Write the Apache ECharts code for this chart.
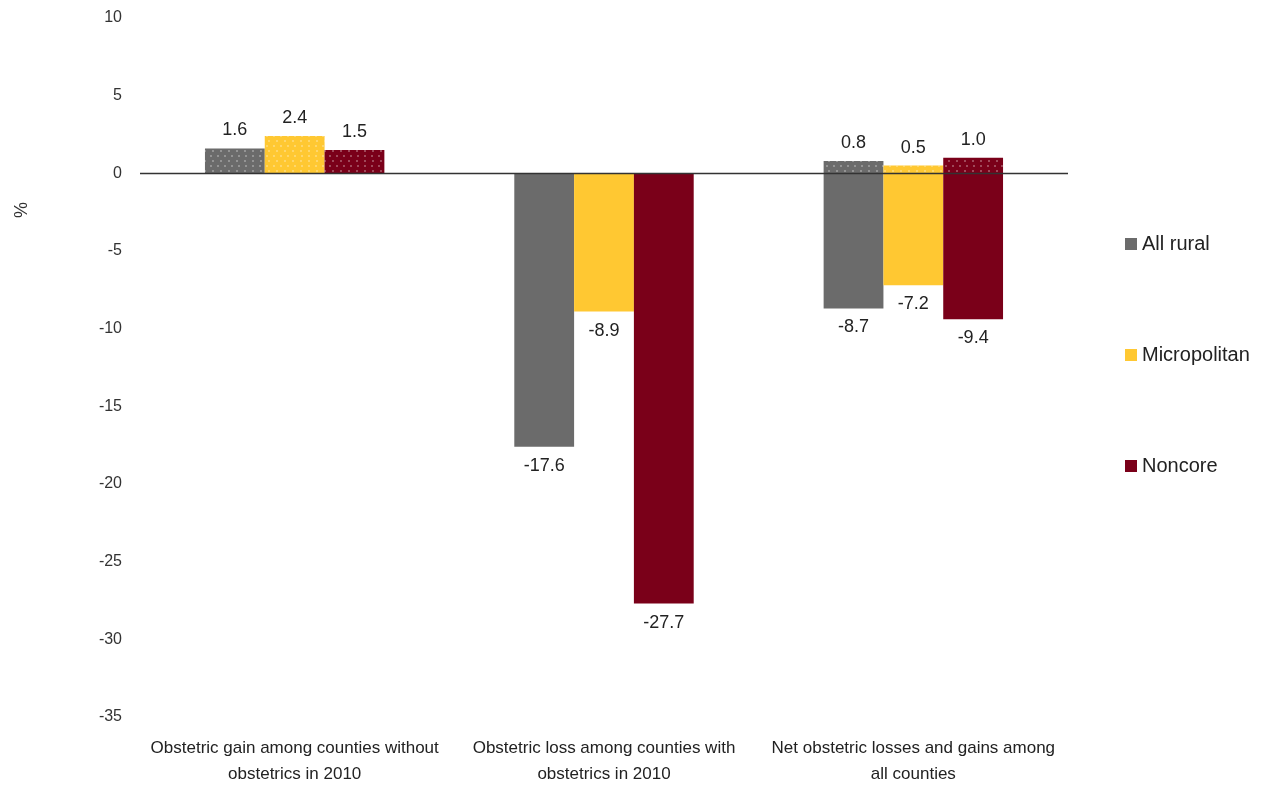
<!DOCTYPE html>
<html>
<head>
<meta charset="utf-8">
<script src="https://cdn.jsdelivr.net/npm/echarts@6/dist/echarts.min.js"></script>
<style>html,body{margin:0;padding:0;background:#fff}#c{width:1266px;height:787px}</style>
</head>
<body>
<div id="c"></div>
<script>
const categories = [
  'Obstetric gain among counties without\nobstetrics in 2010',
  'Obstetric loss among counties with\nobstetrics in 2010',
  'Net obstetric losses and gains among\nall counties'
];
const seriesNames = ['All rural', 'Micropolitan', 'Noncore'];
const ruralGain = [1.6, null, 0.8];
const ruralLoss = [null, -17.6, -8.7];
const microGain = [2.4, null, 0.5];
const microLoss = [null, -8.9, -7.2];
const noncoreGain = [1.5, null, 1.0];
const noncoreLoss = [null, -27.7, -9.4];
const yTicks = { min: -35, max: 10, interval: 5 };

const colors = ['#6b6b6b', '#ffc832', '#7a0019'];
const FONT = 'Liberation Sans';
const decal = {
  symbol: 'circle',
  symbolSize: 1,
  color: 'rgba(255,255,255,0.38)',
  dashArrayX: [[2, 5], [0, 3.5, 2, 1.5]],
  dashArrayY: [2, 2.5],
  rotation: 0
};

function lossSeries(name, data, color, idx) {
  return {
    name: name, type: 'bar', stack: 's' + idx, data: data,
    barGap: '0%', barCategoryGap: '42%',
    itemStyle: { color: color },
    label: { show: true, position: 'bottom', distance: 10, fontSize: 18, fontFamily: FONT, color: '#222',
      formatter: p => p.value == null ? '' : p.value.toFixed(1) }
  };
}
function gainSeries(name, data, color, idx) {
  return {
    name: name, type: 'bar', stack: 's' + idx, data: data,
    barGap: '0%', barCategoryGap: '42%',
    itemStyle: { color: color, decal: decal },
    label: { show: true, position: 'top', distance: 9, fontSize: 18, fontFamily: FONT, color: '#222',
      formatter: p => p.value == null ? '' : p.value.toFixed(1) }
  };
}

const series = [
  lossSeries(seriesNames[0], ruralLoss, colors[0], 0),
  gainSeries(seriesNames[0], ruralGain, colors[0], 0),
  lossSeries(seriesNames[1], microLoss, colors[1], 1),
  gainSeries(seriesNames[1], microGain, colors[1], 1),
  lossSeries(seriesNames[2], noncoreLoss, colors[2], 2),
  gainSeries(seriesNames[2], noncoreGain, colors[2], 2)
];
series[5].markLine = {
  silent: true, symbol: 'none', label: { show: false },
  lineStyle: { color: '#333', width: 1.3, type: 'solid' },
  data: [{ yAxis: 0 }]
};

const chart = echarts.init(document.getElementById('c'));
chart.setOption({
  animation: false,
  backgroundColor: '#fff',
  textStyle: { fontFamily: FONT },
  grid: { left: 140, right: 198, top: 18, bottom: 68 },
  legend: {
    data: seriesNames,
    orient: 'vertical', left: 1120, top: 229, itemGap: 91,
    itemWidth: 12, itemHeight: 12, itemGap: 91,
    textStyle: { fontSize: 20, fontFamily: FONT, color: '#222' },
    icon: 'rect'
  },
  graphic: [{
    type: 'text', left: 13, top: 202, rotation: Math.PI / 2,
    style: { text: '%', fontSize: 18, fontFamily: FONT, fill: '#333' }
  }],
  xAxis: {
    type: 'category', data: categories,
    axisLine: { show: false, onZero: false },
    axisTick: { show: false },
    axisLabel: { fontSize: 17, fontFamily: FONT, color: '#222', margin: 18, lineHeight: 26, interval: 0 }
  },
  yAxis: {
    type: 'value', min: yTicks.min, max: yTicks.max, interval: yTicks.interval,
    axisLine: { show: false }, axisTick: { show: false }, splitLine: { show: false },
    axisLabel: { fontSize: 16, fontFamily: FONT, color: '#333', margin: 18 }
  },
  series: series
});
</script>
</body>
</html>
